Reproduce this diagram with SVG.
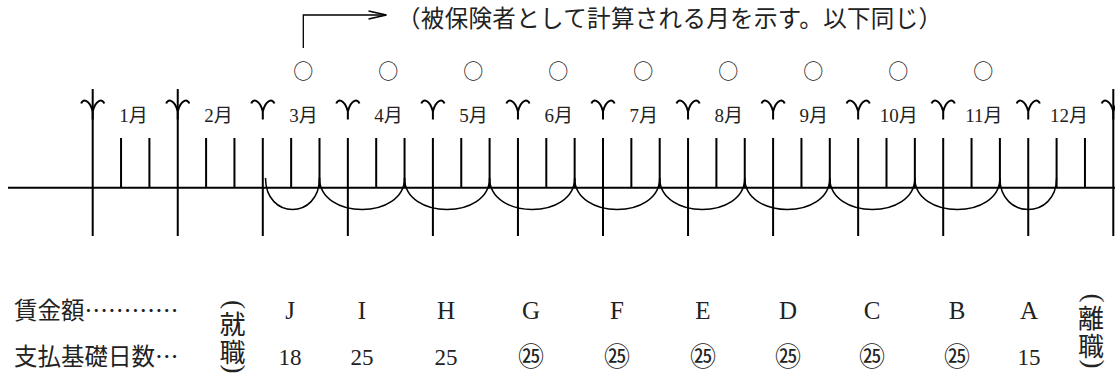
<svg xmlns="http://www.w3.org/2000/svg" width="1115" height="376" viewBox="0 0 1115 376">
<style>
.ln{fill:none;stroke:#000;stroke-width:2}
.arc{fill:none;stroke:#000;stroke-width:1.5}
.thin{fill:none;stroke:#000;stroke-width:1.3}
.jp{font-family:"Noto Sans CJK JP","Noto Sans CJK SC",sans-serif;fill:#222}
.sr{font-family:"Liberation Serif","Noto Sans CJK JP",serif;fill:#222}
.mo{font-size:19px;text-anchor:middle}
.val{font-size:23px;text-anchor:middle}
.let{font-size:25px}
.cn{font-size:26px}
.lab{font-size:23.5px}
.vt{font-size:26px;text-anchor:middle}
.par{font-family:"Liberation Serif",serif;font-size:27px;text-anchor:middle;fill:#222}
.ok{font-size:20px;text-anchor:middle}
</style>
<defs>
<path id="ysym" class="ln" d="M -11.5 103.5 C -10.5 99 -3.5 98.5 0 111.5 M 11.5 103.5 C 10.5 99 3.5 98.5 0 111.5 M 0 111.5 V 119.5"/>
</defs>
<rect width="1115" height="376" fill="#fff"/>

<g id="timeline">
<path class="ln" d="M 8 187.7 H 1115"/>
<path id="boundaries" class="ln" d="M 92.7 89 V 236 M 177.75 89 V 236 M 1113.3 89 V 236 M 262.8 138 V 236 M 347.85 138 V 236 M 432.9 138 V 236 M 517.95 138 V 236 M 603 138 V 236 M 688.05 138 V 236 M 773.1 138 V 236 M 858.15 138 V 236 M 943.2 138 V 236 M 1028.25 138 V 236"/>
<path id="ticks" class="ln" d="M 121.05 138 V 188 M 149.4 138 V 188 M 206.1 138 V 188 M 234.45 138 V 188 M 291.15 138 V 188 M 319.5 138 V 188 M 376.2 138 V 188 M 404.55 138 V 188 M 461.25 138 V 188 M 489.6 138 V 188 M 546.3 138 V 188 M 574.65 138 V 188 M 631.35 138 V 188 M 659.7 138 V 188 M 716.4 138 V 188 M 744.75 138 V 188 M 801.45 138 V 188 M 829.8 138 V 188 M 886.5 138 V 188 M 914.85 138 V 188 M 971.55 138 V 188 M 999.9 138 V 188 M 1056.6 138 V 188 M 1084.95 138 V 188"/>
<g id="month-marks">
<use href="#ysym" x="92.7"/><use href="#ysym" x="177.75"/><use href="#ysym" x="262.8"/><use href="#ysym" x="347.85"/><use href="#ysym" x="432.9"/><use href="#ysym" x="517.95"/><use href="#ysym" x="603"/><use href="#ysym" x="688.05"/><use href="#ysym" x="773.1"/><use href="#ysym" x="858.15"/><use href="#ysym" x="943.2"/><use href="#ysym" x="1028.25"/><use href="#ysym" x="1113.3"/>
</g>
</g>

<g id="month-labels" class="sr mo">
<text x="133.4" y="122">1月</text>
<text x="218.45" y="122">2月</text>
<text x="303.5" y="122">3月</text>
<text x="388.55" y="122">4月</text>
<text x="473.6" y="122">5月</text>
<text x="558.65" y="122">6月</text>
<text x="643.7" y="122">7月</text>
<text x="728.75" y="122">8月</text>
<text x="813.8" y="122">9月</text>
<text x="898.85" y="122">10月</text>
<text x="983.9" y="122">11月</text>
<text x="1068.95" y="122">12月</text>
</g>

<g id="insured-months" class="jp ok">
<text x="303.3" y="78.5">○</text>
<text x="388.3" y="78.5">○</text>
<text x="473.3" y="78.5">○</text>
<text x="558.3" y="78.5">○</text>
<text x="643.3" y="78.5">○</text>
<text x="728.3" y="78.5">○</text>
<text x="813.3" y="78.5">○</text>
<text x="898.3" y="78.5">○</text>
<text x="983.3" y="78.5">○</text>
</g>

<g id="connectors">
<path class="thin" d="M 303.3 48 V 15 H 386"/>
<polyline class="thin" points="368.5,11 386.5,15 368.5,19"/>
<g id="pay-arcs" class="arc">
<path d="M 265.5 178 C 265.5 220 319.5 220 319.5 178"/>
<path d="M 319.5 178 C 319.5 220 404.55 220 404.55 178"/>
<path d="M 404.55 178 C 404.55 220 489.6 220 489.6 178"/>
<path d="M 489.6 178 C 489.6 220 574.65 220 574.65 178"/>
<path d="M 574.65 178 C 574.65 220 659.7 220 659.7 178"/>
<path d="M 659.7 178 C 659.7 220 744.75 220 744.75 178"/>
<path d="M 744.75 178 C 744.75 220 829.8 220 829.8 178"/>
<path d="M 829.8 178 C 829.8 220 914.85 220 914.85 178"/>
<path d="M 914.85 178 C 914.85 220 999.9 220 999.9 178"/>
<path d="M 999.9 178 C 999.9 220 1056.6 220 1056.6 178"/>
</g>
</g>

<g id="note">
<text class="jp" x="397" y="26.5" font-size="23.5" textLength="545" lengthAdjust="spacing">（被保険者として計算される月を示す。以下同じ）</text>
</g>

<g id="row-labels" class="jp lab">
<text x="14" y="319">賃金額…………</text>
<text x="14" y="365">支払基礎日数…</text>
</g>

<g id="join">
<text class="par" x="0" y="6.5" transform="translate(232.5 304.5) rotate(90)">(</text>
<text class="jp vt"><tspan x="232.5" y="333.5">就</tspan><tspan x="232.5" y="362">職</tspan></text>
<text class="par" x="0" y="6.5" transform="translate(232.5 369) rotate(90)">)</text>
</g>
<g id="leave">
<text class="par" x="0" y="6.5" transform="translate(1091 298) rotate(90)">(</text>
<text class="jp vt"><tspan x="1091" y="327.5">離</tspan><tspan x="1091" y="356">職</tspan></text>
<text class="par" x="0" y="6.5" transform="translate(1091 364) rotate(90)">)</text>
</g>

<g id="wages" class="sr val let">
<text x="290" y="319">J</text>
<text x="362" y="319">I</text>
<text x="446" y="319">H</text>
<text x="531" y="319">G</text>
<text x="617" y="319">F</text>
<text x="703" y="319">E</text>
<text x="788" y="319">D</text>
<text x="872" y="319">C</text>
<text x="957" y="319">B</text>
<text x="1029" y="319">A</text>
</g>
<g id="days" class="sr val">
<text x="290" y="365">18</text>
<text x="362" y="365">25</text>
<text x="446" y="365">25</text>
<text class="cn" x="531" y="366">㉕</text>
<text class="cn" x="617" y="366">㉕</text>
<text class="cn" x="703" y="366">㉕</text>
<text class="cn" x="788" y="366">㉕</text>
<text class="cn" x="872" y="366">㉕</text>
<text class="cn" x="957" y="366">㉕</text>
<text x="1029" y="365">15</text>
</g>
</svg>
